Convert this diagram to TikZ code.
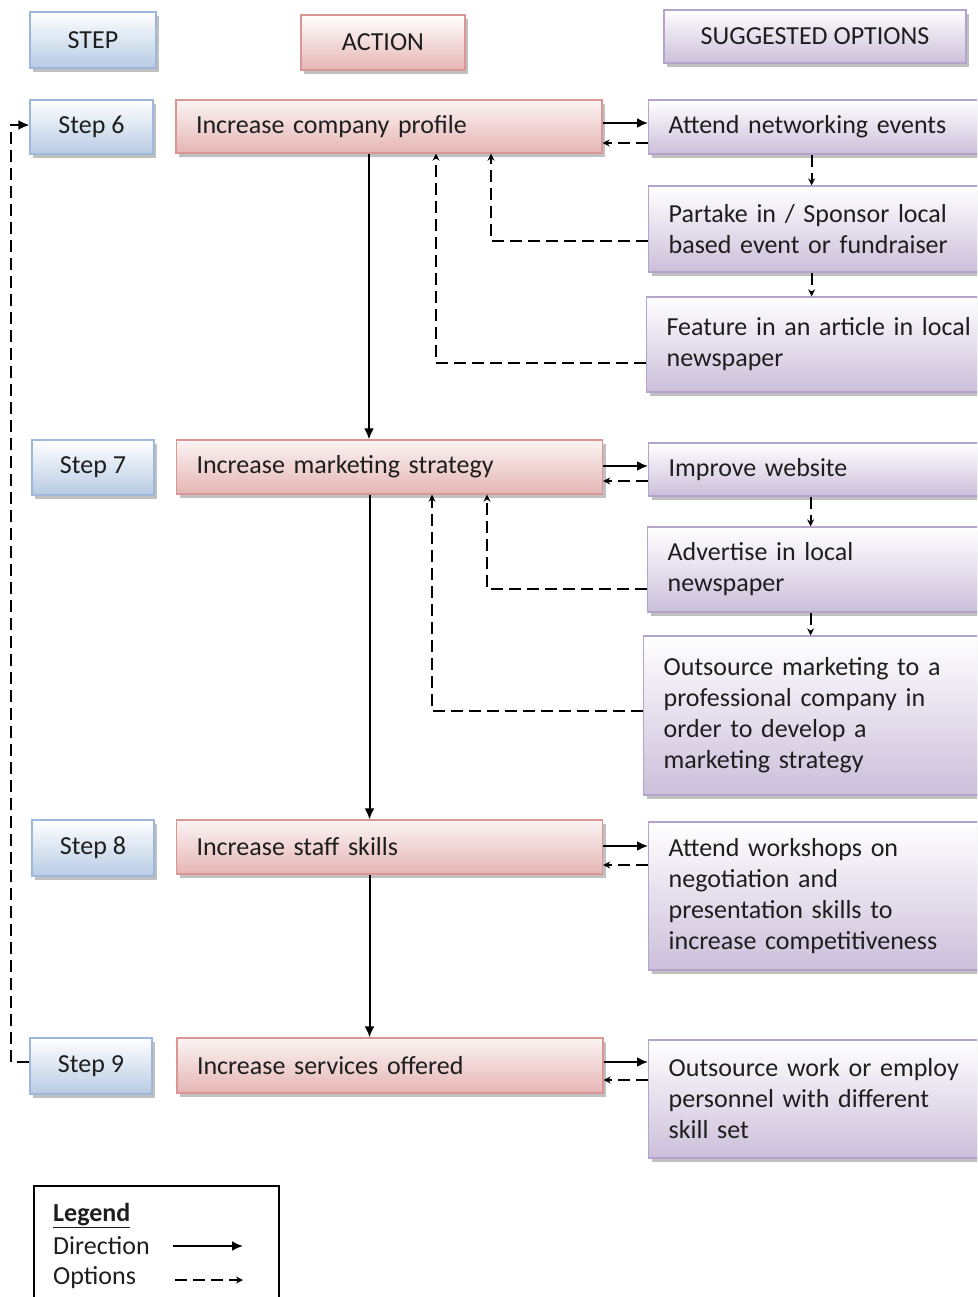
\documentclass[tikz,border=0pt]{standalone}
\usepackage{fontspec}
\setmainfont{Carlito}
\usetikzlibrary{arrows.meta,shadows}

\definecolor{stepfill}{HTML}{B7CBE4}
\definecolor{stepline}{HTML}{9DB8DA}
\definecolor{actfill}{HTML}{E5B5B4}
\definecolor{actline}{HTML}{D99694}
\definecolor{optfill}{HTML}{CBBFDA}
\definecolor{optline}{HTML}{B4A3CA}
\definecolor{ink}{HTML}{1E1E1E}

\begin{document}
\begin{tikzpicture}[x=1pt,y=-1pt,
  box/.style={rectangle, line width=1.3pt, inner sep=0pt,
    font=\fontsize{26}{31}\selectfont, text=ink,
    drop shadow={shadow xshift=3pt, shadow yshift=-4pt, fill=black!45, opacity=0.55}},
  stepbox/.style={box, draw=stepline, top color=white, bottom color=stepfill},
  actbox/.style={box, draw=actline, top color=white!85!actfill, bottom color=actfill,
    text width=386, align=left, inner xsep=20},
  optbox/.style={box, draw=optline, top color=white, bottom color=optfill,
    anchor=west, text width=320, align=left, inner xsep=20},
  dir/.style={line width=2pt, draw=black, -{Latex[length=11pt,width=10pt]}},
  opt/.style={line width=1.9pt, draw=black, dash pattern=on 12pt off 6pt,
    -{Stealth[length=7pt,width=7pt]}},
  lab/.style={font=\fontsize{26}{31}\selectfont, text=ink, inner sep=0pt}
]
\useasboundingbox (0,0) rectangle (977,1297);
\clip (0,0) rectangle (977,1297);

% column headers
\node[stepbox, minimum width=126, minimum height=56] (hstep) at (93,40) {STEP};
\node[box, draw=actline, top color=white, bottom color=actfill,
      minimum width=164, minimum height=55] (hact) at (383,42.5) {ACTION};
\node[stepbox, draw=optline, bottom color=optfill,
      minimum width=302, minimum height=53] (hopt) at (815,36.5) {SUGGESTED OPTIONS};

% step boxes
\node[stepbox, minimum width=123, minimum height=54] (s6) at (91.5,127) {Step 6};
\node[stepbox, minimum width=122, minimum height=55] (s7) at (93,467.5) {Step 7};
\node[stepbox, minimum width=122, minimum height=56] (s8) at (93,848) {Step 8};
\node[stepbox, minimum width=122, minimum height=56] (s9) at (91,1066) {Step 9};

% action boxes
\node[actbox, minimum height=53] (a6) at (389,126.5) {Increase company profile};
\node[actbox, minimum height=54] (a7) at (389.5,467) {Increase marketing strategy};
\node[actbox, minimum height=54] (a8) at (389.5,847) {Increase staff skills};
\node[actbox, minimum height=55] (a9) at (390,1065.5) {Increase services offered};

% suggested options
\node[optbox, minimum height=54]  (o1) at (648,127)   {Attend networking events};
\node[optbox, minimum height=86]  (o2) at (648,229)   {Partake in / Sponsor local\\based event or fundraiser};
\node[optbox, minimum height=95]  (o3) at (646,344.5) {Feature in an article in local\\newspaper};
\node[optbox, minimum height=53]  (o4) at (648,469.5) {Improve website};
\node[optbox, minimum height=85]  (o5) at (647,569.5) {Advertise in local\\newspaper};
\node[optbox, minimum height=159] (o6) at (643,715.5) {Outsource marketing to a\\professional company in\\order to develop a\\marketing strategy};
\node[optbox, minimum height=148] (o7) at (648,896)   {Attend workshops on\\negotiation and\\presentation skills to\\increase competitiveness};
\node[optbox, minimum height=118] (o8) at (648,1099)  {Outsource work or employ\\personnel with different\\skill set};

% direction between actions
\draw[dir] ([xshift=-20]a6.south) -- ([xshift=-20]a6.south |- a7.north);
\draw[dir] ([xshift=-20]a7.south) -- ([xshift=-20]a7.south |- a8.north);
\draw[dir] ([xshift=-20]a8.south) -- ([xshift=-20]a8.south |- a9.north);

% actions to their first option and back
\draw[dir] ([yshift=3.5]a6.east) -- ([yshift=3.5]a6.east -| o1.west);
\draw[opt] ([yshift=-16.5]a6.east -| o1.west) -- ([yshift=-16.5]a6.east);
\draw[dir] ([yshift=1]a7.east) -- ([yshift=1]a7.east -| o4.west);
\draw[opt] ([yshift=-14]a7.east -| o4.west) -- ([yshift=-14]a7.east);
\draw[dir] ([yshift=1]a8.east) -- ([yshift=1]a8.east -| o7.west);
\draw[opt] ([yshift=-18]a8.east -| o7.west) -- ([yshift=-18]a8.east);
\draw[dir] ([yshift=3.5]a9.east) -- ([yshift=3.5]a9.east -| o8.west);
\draw[opt] ([yshift=-14.5]a9.east -| o8.west) -- ([yshift=-14.5]a9.east);

% options chained downwards
\draw[opt] ([xshift=-17]o1.south) -- ([xshift=-17]o1.south |- o2.north);
\draw[opt] ([xshift=-17]o2.south) -- ([xshift=-17]o2.south |- o3.north);
\draw[opt] ([xshift=-18]o4.south) -- ([xshift=-18]o4.south |- o5.north);
\draw[opt] ([xshift=-17]o5.south) -- ([xshift=-17]o5.south |- o6.north);

% options returning to their action
\draw[opt] ([yshift=-12]o2.west) -| ([xshift=102]a6.south);
\draw[opt] ([yshift=-18.5]o3.west) -| ([xshift=47]a6.south);
\draw[opt] ([yshift=-19.5]o5.west) -| ([xshift=97.5]a7.south);
\draw[opt] ([yshift=4.5]o6.west) -| ([xshift=42.5]a7.south);

% loop from step 9 back to step 6
\draw[line width=1.9pt, dash pattern=on 12pt off 6pt, -{Latex[length=11pt,width=10pt]}]
  ([yshift=4]s9.west) -- ++(-18,0) |- ([yshift=2]s6.west);

% legend
\draw[line width=1.5pt] (34,1310) |- (279,1186) -- (279,1310);
\node[lab, anchor=base west] (lgt) at (53,1221) {\textbf{\underline{Legend}}};
\node[lab, anchor=west] (lgd) at (53,1246) {Direction};
\node[lab, anchor=west] (lgo) at (53,1278) {Options};
\coordinate (d1) at (173,1246);
\coordinate (d2) at (243,1246);
\coordinate (p1) at (175,1280);
\coordinate (p2) at (243,1280);
\draw[dir] (d1) -- (d2);
\draw[opt] (p1) -- (p2);
\end{tikzpicture}
\end{document}
